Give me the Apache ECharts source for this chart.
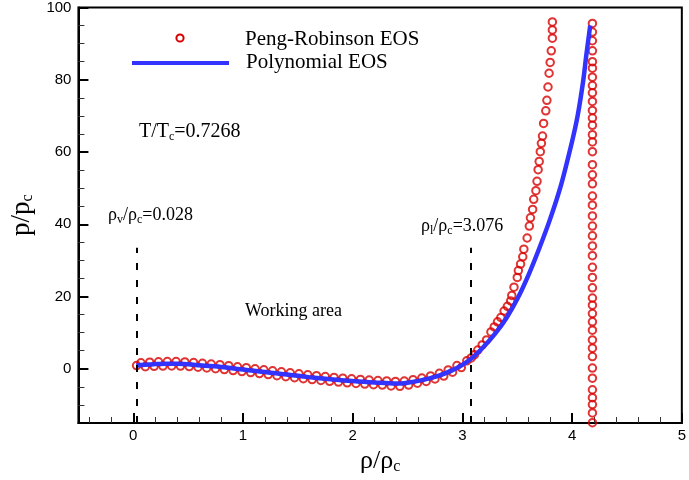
<!DOCTYPE html>
<html>
<head>
<meta charset="utf-8">
<script src="https://cdn.jsdelivr.net/npm/echarts@6/dist/echarts.min.js"></script>
<style>
  html, body { margin: 0; padding: 0; background: #fff; }
  #chart { width: 689px; height: 480px; }
</style>
</head>
<body>
<div id="chart"></div>
<script>
// Isotherm T/Tc = 0.7268: reduced pressure p/pc against reduced density rho/rhoc

// Polynomial EOS curve
const polyRho = [0.028, 0.1, 0.2, 0.3, 0.4, 0.5, 0.6, 0.7, 0.8, 0.9, 1.0, 1.1, 1.2, 1.3, 1.4, 1.5, 1.6, 1.7, 1.8, 1.9,
  2.0, 2.1, 2.2, 2.3, 2.4, 2.5, 2.6, 2.7, 2.8, 2.9, 3.0, 3.1, 3.2, 3.3, 3.4, 3.5, 3.6, 3.7, 3.8, 3.9,
  4.0, 4.05, 4.1, 4.13, 4.165];
const polyP = [0.9, 1.15, 1.3, 1.4, 1.4, 1.25, 1.0, 0.75, 0.5, 0.15, -0.2, -0.55, -0.9, -1.25, -1.6, -1.95, -2.3, -2.6, -2.9, -3.15,
  -3.4, -3.6, -3.8, -3.95, -4.1, -3.85, -3.35, -2.65, -1.75, -0.5, 1.1, 3.3, 6.3, 9.8, 14.0, 19.3, 25.8, 33.3, 41.5, 51.0,
  63.0, 70.0, 79.5, 87.0, 95.0];

// Peng-Robinson EOS samples: two-phase region
const prLowRho = [0.03, 0.07, 0.11, 0.15, 0.19, 0.23, 0.27, 0.31, 0.35, 0.39, 0.43, 0.47, 0.51, 0.55, 0.59,
  0.63, 0.67, 0.71, 0.75, 0.79, 0.83, 0.87, 0.91, 0.95, 0.99, 1.03, 1.07, 1.11, 1.15, 1.19,
  1.23, 1.27, 1.31, 1.35, 1.39, 1.43, 1.47, 1.51, 1.55, 1.59, 1.63, 1.67, 1.71, 1.75, 1.79,
  1.83, 1.87, 1.91, 1.95, 1.99, 2.03, 2.07, 2.11, 2.15, 2.19, 2.23, 2.27, 2.31, 2.35, 2.39,
  2.43, 2.47, 2.51, 2.55, 2.59, 2.63, 2.67, 2.71, 2.75, 2.79, 2.83, 2.87, 2.91, 2.95, 2.99];
const prLowP = [0.9, 1.65, 0.57, 1.82, 0.69, 1.93, 0.77, 2.0, 0.8, 2.0, 0.76, 1.9, 0.63, 1.73, 0.43,
  1.53, 0.23, 1.33, 0.03, 1.13, -0.2, 0.85, -0.48, 0.57, -0.77, 0.3, -1.05, 0.01, -1.33, -0.27,
  -1.6, -0.55, -1.89, -0.83, -2.17, -1.1, -2.45, -1.39, -2.73, -1.67, -2.99, -1.91, -3.23, -2.15, -3.47,
  -2.38, -3.68, -2.58, -3.88, -2.78, -4.06, -2.94, -4.22, -3.1, -4.38, -3.25, -4.51, -3.37, -4.75, -3.5,
  -4.85, -3.4, -4.5, -3.0, -4.0, -2.55, -3.48, -1.97, -2.8, -1.25, -2.0, -0.3, -0.95, 0.9, 0.35];

// Peng-Robinson EOS samples: compressed liquid branch
const prRiseRho = [3.04, 3.08, 3.11, 3.14, 3.18, 3.22, 3.26, 3.29, 3.32, 3.35, 3.38, 3.41, 3.44, 3.45, 3.47,
  3.50, 3.51, 3.53, 3.55, 3.56, 3.59, 3.61, 3.62, 3.64, 3.65, 3.67, 3.68, 3.69, 3.70, 3.71,
  3.72, 3.73, 3.74, 3.76, 3.77, 3.78, 3.79, 3.80, 3.81, 3.82, 3.82, 3.82];
const prRiseP = [2.2, 3.0, 3.9, 5.2, 6.6, 8.0, 10.2, 11.6, 13.0, 14.2, 16.0, 17.3, 18.8, 20.3, 22.6,
  25.3, 27.2, 29.0, 31.0, 33.1, 36.2, 39.5, 41.8, 44.1, 46.9, 49.3, 51.9, 55.1, 57.4, 60.1,
  62.4, 64.4, 67.9, 71.4, 74.3, 78.0, 81.8, 84.8, 88.0, 91.5, 93.8, 96.0];

// Peng-Robinson EOS samples: vertical branch at the density limit
const prColumnRho = 4.185;
const prColumnP = [95.6, 93.2, 90.8, 88.0, 85.0, 83.2, 80.7, 78.4, 76.4, 74.0, 71.5, 69.4, 67.4, 64.8, 62.8,
  60.1, 56.5, 53.7, 51.2, 47.8, 45.3, 42.3, 39.5, 36.8, 34.0, 31.3, 28.1, 25.3, 22.4, 19.6,
  17.6, 15.3, 13.0, 10.7, 8.0, 5.7, 3.4, 0.2, -2.6, -5.8, -8.0, -9.9, -12.2, -14.9];

// Saturation densities bounding the working area
const rhoVapour = 0.028;
const rhoLiquid = 3.076;
const markerTop = 33.5;

// Axis ticks
const xMajorTicks = [0, 1, 2, 3, 4, 5];
const xMinorTicks = [-0.4, -0.2, 0.2, 0.4, 0.6, 0.8, 1.2, 1.4, 1.6, 1.8, 2.2, 2.4, 2.6, 2.8,
  3.2, 3.4, 3.6, 3.8, 4.2, 4.4, 4.6, 4.8];
const yMajorTicks = [0, 20, 40, 60, 80, 100];
const yMinorTicks = [-10, -5, 5, 10, 15, 25, 30, 35, 45, 50, 55, 65, 70, 75, 85, 90, 95];

const SERIF = '"Liberation Serif", "Times New Roman", serif';
const SANS = '"Liberation Sans", Arial, sans-serif';
const RED = '#d80000';
const BLUE = '#3333ff';

const polyData = polyRho.map((r, i) => [r, polyP[i]]);
const prData = prLowRho.map((r, i) => [r, prLowP[i]])
  .concat(prRiseRho.map((r, i) => [r, prRiseP[i]]))
  .concat(prColumnP.map(p => [prColumnRho, p]));

const chart = echarts.init(document.getElementById('chart'), null, { renderer: 'canvas' });

const xRange = { min: -0.5, max: 5 };
const yRange = { min: -15, max: 100 };

const sub = (size, pad) => ({ fontFamily: SERIF, fontSize: size, color: '#000', padding: [pad, 0, 0, 0] });
const norm = (size) => ({ fontFamily: SERIF, fontSize: size, color: '#000' });

chart.setOption({
  animation: false,
  backgroundColor: '#fff',
  grid: { left: 77, right: 3, top: 5, bottom: 56, show: true, borderColor: '#000', borderWidth: 2 },
  xAxis: [
    {
      type: 'value', ...xRange, position: 'bottom',
      name: '{a|ρ/ρ}{b|c}', nameLocation: 'middle', nameGap: 24,
      nameTextStyle: { rich: { a: norm(26), b: sub(16, 12) } },
      axisLine: { onZero: false, lineStyle: { color: '#000', width: 2 } },
      axisTick: { customValues: xMajorTicks, inside: true, length: 10, lineStyle: { color: '#000', width: 2 } },
      axisLabel: { customValues: xMajorTicks, color: '#000', fontFamily: SANS, fontSize: 15, margin: 5 },
      splitLine: { show: false }
    },
    {
      type: 'value', ...xRange, position: 'bottom',
      axisLine: { show: false, onZero: false },
      axisTick: { customValues: xMinorTicks, inside: true, length: 6, lineStyle: { color: '#333', width: 1 } },
      axisLabel: { show: false },
      splitLine: { show: false }
    }
  ],
  yAxis: [
    {
      type: 'value', ...yRange, position: 'left',
      name: '{a|p/p}{b|c}', nameLocation: 'middle', nameGap: 37,
      nameTextStyle: { rich: { a: norm(27), b: sub(16, 12) } },
      axisLine: { onZero: false, lineStyle: { color: '#000', width: 2 } },
      axisTick: { customValues: yMajorTicks, inside: true, length: 10, lineStyle: { color: '#000', width: 2 } },
      axisLabel: { customValues: yMajorTicks, color: '#000', fontFamily: SANS, fontSize: 15, margin: 7 },
      splitLine: { show: false }
    },
    {
      type: 'value', ...yRange, position: 'left',
      axisLine: { show: false, onZero: false },
      axisTick: { customValues: yMinorTicks, inside: true, length: 6, lineStyle: { color: '#333', width: 1 } },
      axisLabel: { show: false },
      splitLine: { show: false }
    }
  ],
  series: [
    {
      name: 'Peng-Robinson EOS',
      type: 'scatter',
      data: prData,
      symbol: 'circle',
      symbolSize: 7.5,
      itemStyle: { color: 'rgba(0,0,0,0)', borderColor: RED, borderWidth: 2 },
      z: 2
    },
    {
      name: 'Polynomial EOS',
      type: 'line',
      data: polyData,
      smooth: 0.3,
      showSymbol: false,
      lineStyle: { color: BLUE, width: 4.5 },
      z: 3,
      markLine: {
        silent: true,
        symbol: ['none', 'none'],
        label: { show: false },
        lineStyle: { color: '#000', width: 2, type: [7, 10] },
        data: [
          [{ coord: [rhoVapour, yRange.min] }, { coord: [rhoVapour, markerTop] }],
          [{ coord: [rhoLiquid, yRange.min] }, { coord: [rhoLiquid, markerTop] }]
        ]
      }
    }
  ],
  graphic: [
    { type: 'circle', shape: { cx: 180, cy: 38, r: 3.6 }, style: { fill: 'rgba(0,0,0,0)', stroke: RED, lineWidth: 2 } },
    { type: 'text', x: 245, y: 39, style: { text: 'Peng-Robinson EOS', font: '21px ' + SERIF, fill: '#000', verticalAlign: 'middle' } },
    { type: 'line', shape: { x1: 132, y1: 63, x2: 229, y2: 63 }, style: { stroke: BLUE, lineWidth: 4 } },
    { type: 'text', x: 246, y: 62, style: { text: 'Polynomial EOS', font: '21px ' + SERIF, fill: '#000', verticalAlign: 'middle' } },
    { type: 'text', x: 139, y: 132, style: {
        text: '{a|T/T}{b|c}{a|=0.7268}', verticalAlign: 'middle',
        rich: { a: norm(20), b: sub(12, 10) } } },
    { type: 'text', x: 108, y: 215, style: {
        text: '{a|ρ}{b|v}{a|/ρ}{b|c}{a|=0.028}', verticalAlign: 'middle',
        rich: { a: norm(18), b: sub(12, 9) } } },
    { type: 'text', x: 421, y: 226, style: {
        text: '{a|ρ}{b|l}{a|/ρ}{b|c}{a|=3.076}', verticalAlign: 'middle',
        rich: { a: norm(18), b: sub(12, 9) } } },
    { type: 'text', x: 245, y: 311, style: { text: 'Working area', font: '18px ' + SERIF, fill: '#000', verticalAlign: 'middle' } }
  ]
});
</script>
</body>
</html>
